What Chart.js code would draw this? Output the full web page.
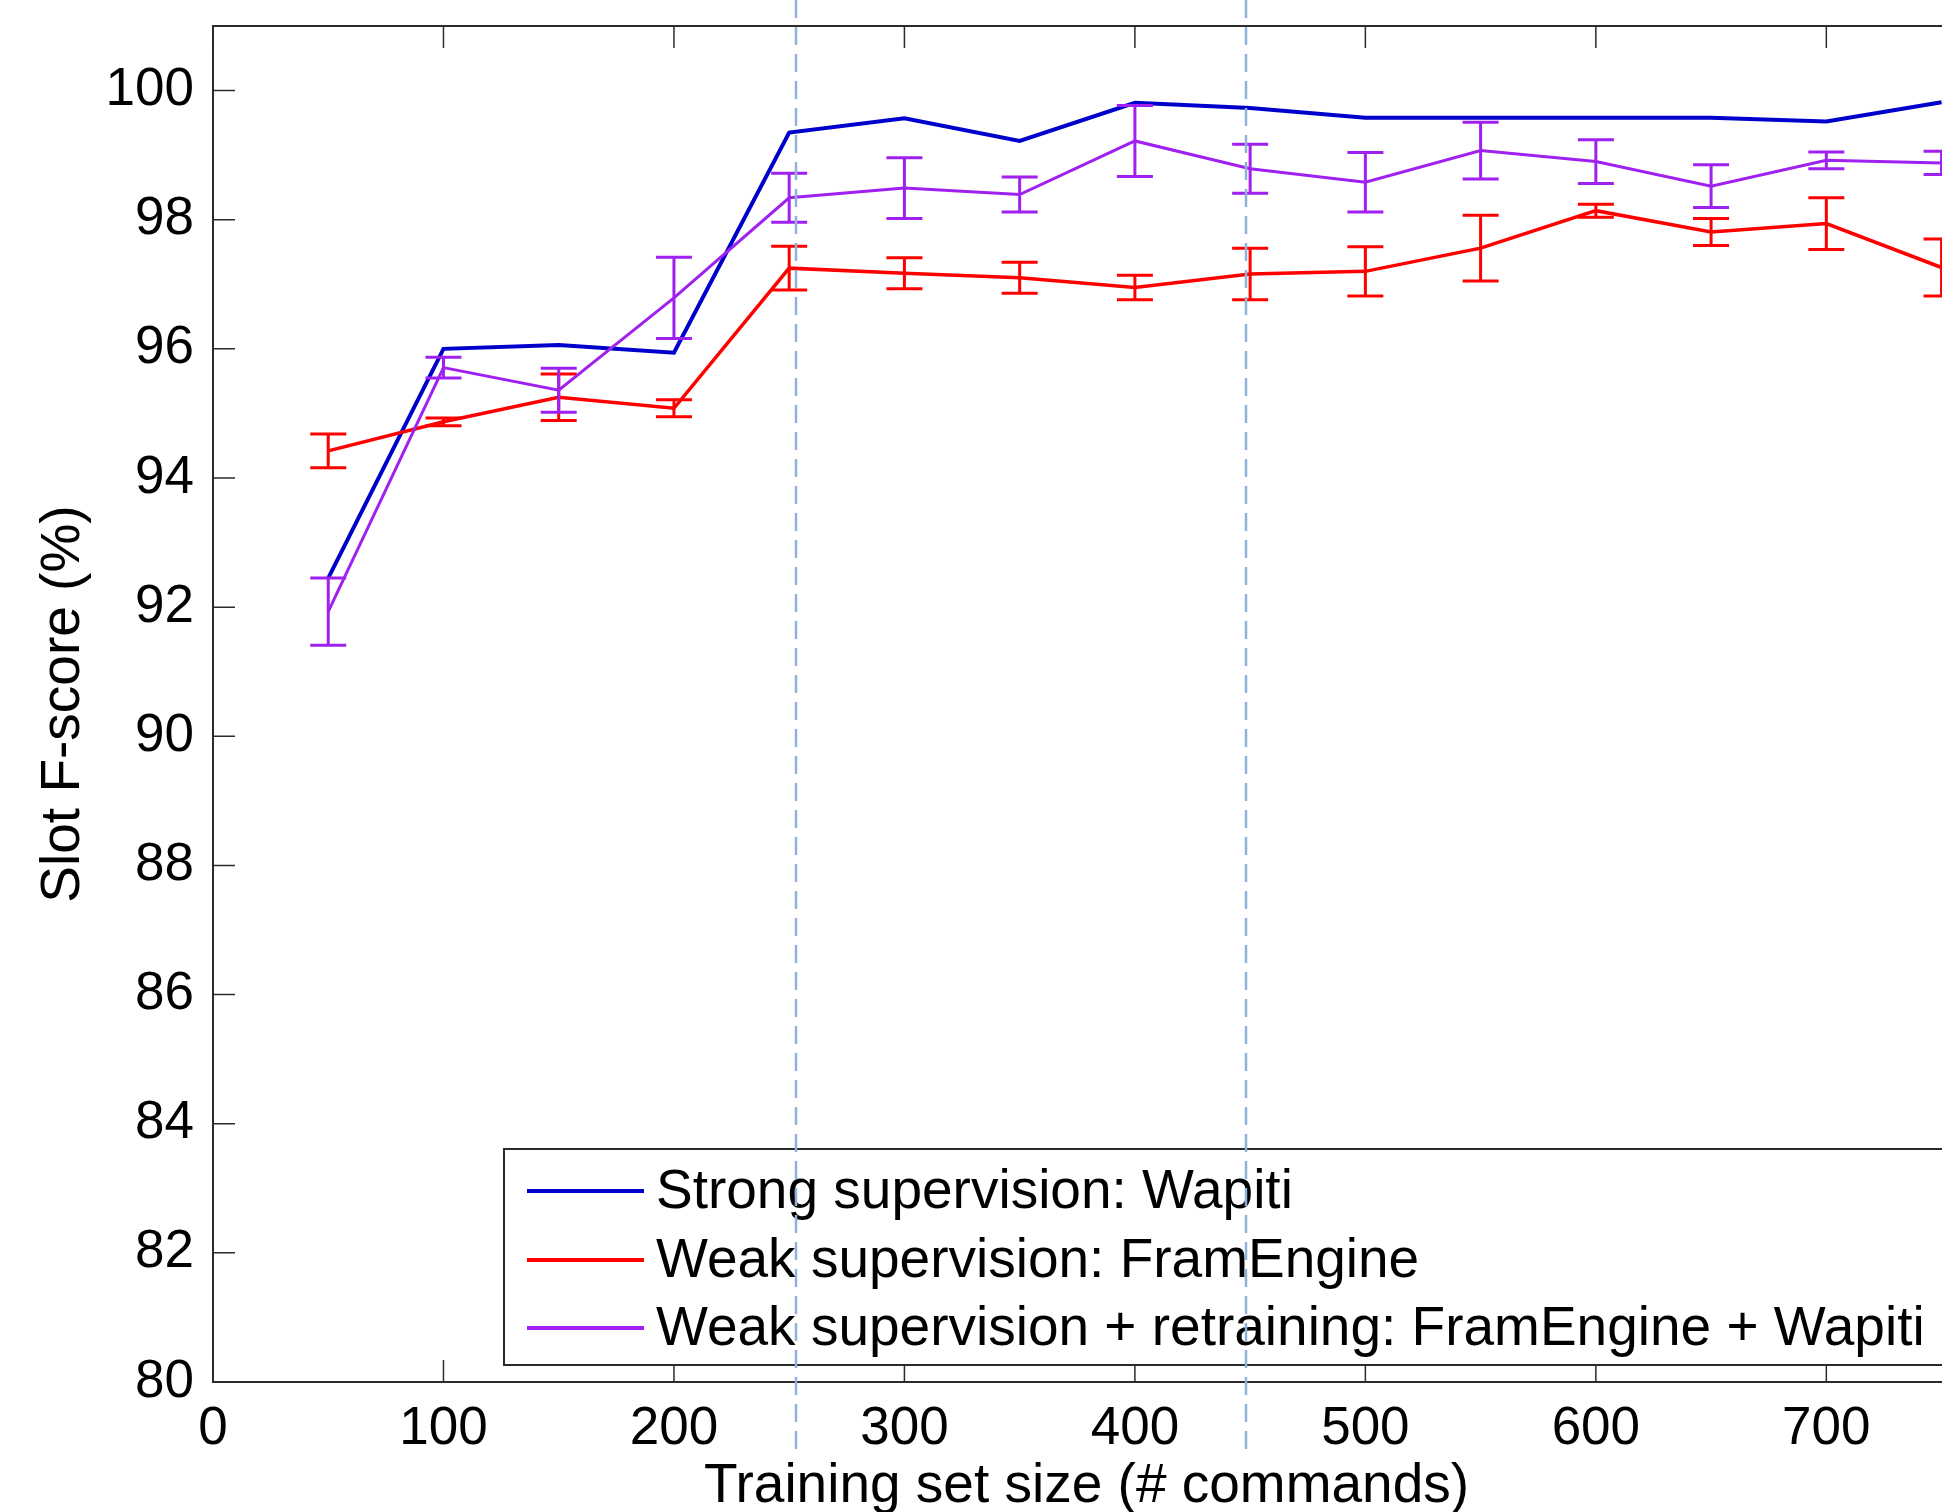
<!DOCTYPE html>
<html>
<head>
<meta charset="utf-8">
<script src="https://cdn.jsdelivr.net/npm/chart.js@4.4.0/dist/chart.umd.min.js"></script>
<style>
  html, body { margin: 0; padding: 0; background: #fff; overflow: hidden; }
  #wrap { width: 1960px; height: 1540px; }
</style>
</head>
<body>
<div id="wrap"><canvas id="slot-chart" width="1960" height="1540"></canvas></div>
<script>
// training set sizes (# commands)
const trainSizes = [50, 100, 150, 200, 250, 300, 350, 400, 450, 500, 550, 600, 650, 700, 750];

// slot F-score (%) per series
const strongScore  = [92.45, 96.00, 96.06, 95.94, 99.35, 99.57, 99.22, 99.81, 99.73, 99.58, 99.58, 99.58, 99.58, 99.52, 99.82];
const weakScore    = [94.42, 94.87, 95.25, 95.08, 97.25, 97.17, 97.10, 96.95, 97.16, 97.20, 97.56, 98.14, 97.81, 97.94, 97.26];
const weakErr      = [0.26, 0.06, 0.36, 0.13, 0.34, 0.24, 0.24, 0.19, 0.40, 0.38, 0.51, 0.10, 0.21, 0.40, 0.44];
const retrainScore = [91.93, 95.71, 95.36, 96.79, 98.34, 98.49, 98.39, 99.22, 98.79, 98.58, 99.07, 98.90, 98.52, 98.92, 98.88];
const retrainErr   = [0.52, 0.16, 0.34, 0.63, 0.38, 0.47, 0.27, 0.55, 0.38, 0.46, 0.44, 0.34, 0.33, 0.13, 0.18];

const seriesLabels = [
    'Strong supervision: Wapiti',
    'Weak supervision: FramEngine',
    'Weak supervision + retraining: FramEngine + Wapiti'
];

const xTicks = [0, 100, 200, 300, 400, 500, 600, 700];
const yTicks = [80, 82, 84, 86, 88, 90, 92, 94, 96, 98, 100];
const markerLines = [253, 448];

const FONT = '"Liberation Sans", Arial, sans-serif';

function points(ys) {
    return trainSizes.map((x, i) => ({x: x, y: ys[i]}));
}

// error bars drawn right after their own line so layering follows the series
const errorBars = {
    id: 'errorBars',
    afterDatasetDraw(chart, args) {
        const ds = chart.data.datasets[args.index];
        if (!ds.errors) return;
        const y = chart.scales.y;
        const ctx = chart.ctx;
        ctx.save();
        ctx.strokeStyle = ds.borderColor;
        ctx.lineWidth = 3;
        args.meta.data.forEach((pt, i) => {
            const v = ds.data[i].y, e = ds.errors[i];
            const top = y.getPixelForValue(v + e), bot = y.getPixelForValue(v - e);
            ctx.beginPath();
            ctx.moveTo(pt.x, top); ctx.lineTo(pt.x, bot);
            ctx.moveTo(pt.x - 18, top); ctx.lineTo(pt.x + 18, top);
            ctx.moveTo(pt.x - 18, bot); ctx.lineTo(pt.x + 18, bot);
            ctx.stroke();
        });
        ctx.restore();
    }
};

// matlab style box with inward ticks, plus the legend box
const axesBox = {
    id: 'axesBox',
    afterDatasetsDraw(chart) {
        const {ctx, chartArea: a, scales: {x, y}} = chart;
        ctx.save();
        ctx.strokeStyle = '#2b2b2b';
        ctx.lineWidth = 2;
        ctx.beginPath();
        ctx.moveTo(a.right + 5, a.top); ctx.lineTo(a.left, a.top);
        ctx.lineTo(a.left, a.bottom); ctx.lineTo(a.right + 5, a.bottom);
        ctx.stroke();

        ctx.lineWidth = 1.5;
        ctx.beginPath();
        x.ticks.forEach(t => {
            const px = x.getPixelForValue(t.value);
            ctx.moveTo(px, a.bottom); ctx.lineTo(px, a.bottom - 22);
            ctx.moveTo(px, a.top); ctx.lineTo(px, a.top + 22);
        });
        y.ticks.forEach(t => {
            const py = y.getPixelForValue(t.value);
            ctx.moveTo(a.left, py); ctx.lineTo(a.left + 22, py);
        });
        ctx.stroke();

        // legend
        const box = {left: 504, top: 1149, right: 1952, bottom: 1365};
        ctx.fillStyle = '#fff';
        ctx.fillRect(box.left, box.top, box.right - box.left, box.bottom - box.top);
        ctx.lineWidth = 2;
        ctx.strokeStyle = '#2b2b2b';
        ctx.strokeRect(box.left, box.top, box.right - box.left, box.bottom - box.top);
        const rows = [1191, 1260, 1328];
        ctx.font = '55px ' + FONT;
        ctx.textBaseline = 'middle';
        ctx.textAlign = 'left';
        chart.data.datasets.forEach((ds, i) => {
            ctx.strokeStyle = ds.borderColor;
            ctx.lineWidth = 4;
            ctx.beginPath();
            ctx.moveTo(527, rows[i]); ctx.lineTo(644, rows[i]);
            ctx.stroke();
            ctx.fillStyle = '#000';
            ctx.fillText(ds.label, 656, rows[i] + 2);
        });
        ctx.restore();
    },
    afterDraw(chart) {
        const {ctx, scales: {x}} = chart;
        ctx.save();
        ctx.strokeStyle = '#8fb2dc';
        ctx.lineWidth = 2.5;
        ctx.setLineDash([18, 9]);
        markerLines.forEach(v => {
            const px = Math.round(x.getPixelForValue(v));
            ctx.beginPath();
            ctx.moveTo(px, 0); ctx.lineTo(px, 1455);
            ctx.stroke();
        });
        ctx.restore();
    }
};

let slotChart = new Chart(document.getElementById('slot-chart').getContext('2d'), {
    type: 'line',
    data: {
        datasets: [{
            label: seriesLabels[0],
            data: points(strongScore),
            borderColor: '#0000cc',
            borderWidth: 4,
            pointRadius: 0,
            order: 2
        },
        {
            label: seriesLabels[1],
            data: points(weakScore),
            errors: weakErr,
            borderColor: '#ff0000',
            borderWidth: 3.5,
            pointRadius: 0,
            order: 1
        },
        {
            label: seriesLabels[2],
            data: points(retrainScore),
            errors: retrainErr,
            borderColor: '#a020f0',
            borderWidth: 3,
            pointRadius: 0,
            order: 0
        }]
    },
    options: {
        responsive: false,
        animation: false,
        events: [],
        layout: { padding: { top: 26, left: 0, right: 0, bottom: 0 } },
        plugins: {
            legend: { display: false },
            tooltip: { enabled: false }
        },
        scales: {
            x: {
                type: 'linear',
                min: 0,
                max: 758,
                afterBuildTicks: s => { s.ticks = xTicks.map(v => ({value: v})); },
                afterFit: s => { s.height = 158; s.paddingLeft = 0; s.paddingRight = 0; },
                grid: { display: false },
                border: { display: false },
                ticks: {
                    color: '#000',
                    padding: 8,
                    maxRotation: 0,
                    autoSkip: false,
                    font: { family: FONT, size: 53 }
                },
                title: {
                    display: true,
                    text: 'Training set size (# commands)',
                    color: '#000',
                    padding: { top: 0, bottom: 20 },
                    font: { family: FONT, size: 55 }
                }
            },
            y: {
                min: 80,
                max: 101,
                afterBuildTicks: s => { s.ticks = yTicks.map(v => ({value: v})); },
                afterFit: s => { s.width = 213; s.paddingTop = 0; s.paddingBottom = 0; },
                grid: { display: false },
                border: { display: false },
                ticks: {
                    color: '#000',
                    padding: 11,
                    autoSkip: false,
                    font: { family: FONT, size: 53 }
                },
                title: {
                    display: true,
                    text: 'Slot F-score (%)',
                    color: '#000',
                    padding: { top: 31, bottom: 0 },
                    font: { family: FONT, size: 55 }
                }
            }
        }
    },
    plugins: [errorBars, axesBox]
});
</script>
</body>
</html>
